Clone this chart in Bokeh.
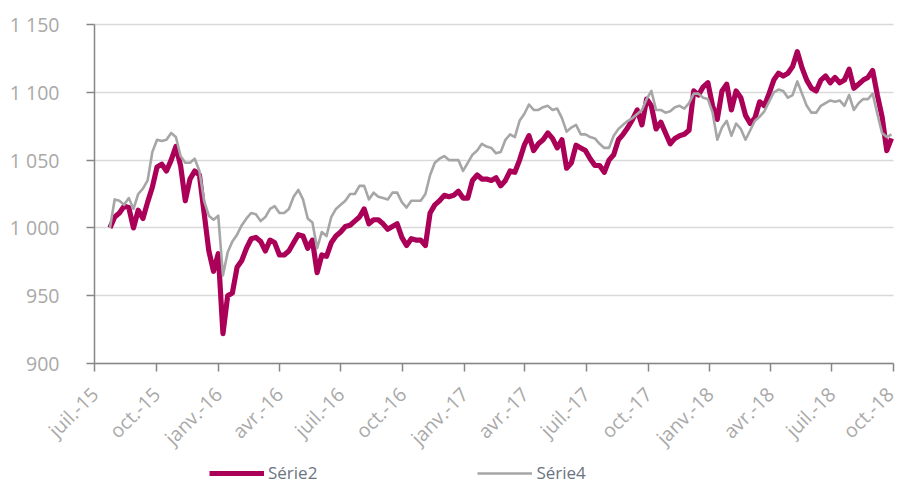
import math
import pandas as pd
from bokeh.plotting import figure
from bokeh.models import FixedTicker, Legend, LegendItem, Range1d
from bokeh.embed import file_html
from bokeh.resources import INLINE

# ---------------- data (weekly readings) ----------------
start_date = "2015-07-24"
n_points = 167

serie2 = [
    1000, 1008, 1011, 1016, 1015, 1000, 1013, 1007, 1019, 1030,
    1045, 1047, 1042, 1050, 1060, 1046, 1020, 1036, 1042, 1039,
    1011, 983, 968, 981, 922, 950, 952, 971, 976, 985,
    992, 993, 990, 983, 991, 989, 980, 980, 983, 989,
    995, 994, 985, 991, 967, 980, 979, 989, 994, 997,
    1001, 1002, 1005, 1008, 1014, 1003, 1006, 1006, 1003, 999,
    1001, 1003, 993, 987, 992, 991, 991, 987, 1011, 1017,
    1020, 1024, 1023, 1024, 1027, 1022, 1022, 1035, 1039, 1036,
    1036, 1035, 1037, 1031, 1035, 1042, 1041, 1050, 1061, 1068,
    1057, 1062, 1065, 1070, 1066, 1059, 1065, 1044, 1048, 1061,
    1059, 1057, 1051, 1046, 1046, 1041, 1050, 1054, 1065, 1069,
    1074, 1080, 1087, 1076, 1095, 1090, 1073, 1078, 1070, 1062,
    1066, 1068, 1069, 1072, 1101, 1098, 1104, 1107, 1090, 1080,
    1101, 1106, 1087, 1101, 1096, 1083, 1077, 1081, 1093, 1090,
    1099, 1109, 1114, 1112, 1114, 1119, 1130, 1118, 1109, 1103,
    1101, 1109, 1112, 1107, 1111, 1107, 1109, 1117, 1103, 1106,
    1109, 1111, 1116, 1098, 1082, 1057, 1066,
]

serie4 = [
    1000, 1021, 1020, 1017, 1022, 1014, 1025, 1029, 1035, 1056,
    1065, 1064, 1065, 1070, 1067, 1053, 1048, 1048, 1051, 1042,
    1020, 1009, 1006, 1009, 965, 982, 990, 995, 1002, 1007,
    1011, 1010, 1005, 1008, 1014, 1016, 1011, 1011, 1014, 1023,
    1028, 1021, 1007, 1004, 985, 997, 994, 1008, 1014, 1017,
    1020, 1025, 1025, 1031, 1031, 1021, 1026, 1023, 1022, 1021,
    1026, 1026, 1019, 1015, 1020, 1020, 1020, 1025, 1039, 1048,
    1051, 1053, 1050, 1050, 1050, 1042, 1048, 1054, 1057, 1062,
    1060, 1059, 1055, 1056, 1065, 1069, 1067, 1079, 1084, 1091,
    1087, 1087, 1089, 1090, 1087, 1088, 1081, 1071, 1074, 1076,
    1069, 1069, 1067, 1066, 1062, 1059, 1059, 1068, 1073, 1076,
    1079, 1081, 1084, 1087, 1095, 1101, 1087, 1087, 1085, 1086,
    1089, 1090, 1088, 1092, 1099, 1099, 1096, 1095, 1085, 1065,
    1074, 1079, 1068, 1077, 1073, 1065, 1072, 1079, 1082, 1086,
    1093, 1100, 1102, 1101, 1096, 1098, 1108, 1099, 1090, 1085,
    1085, 1090, 1092, 1094, 1093, 1094, 1090, 1098, 1087, 1092,
    1095, 1095, 1099, 1084, 1070, 1067, 1069,
]

tick_dates = [
    "2015-07-01", "2015-10-01", "2016-01-01", "2016-04-01", "2016-07-01",
    "2016-10-01", "2017-01-01", "2017-04-01", "2017-07-01", "2017-10-01",
    "2018-01-01", "2018-04-01", "2018-07-01", "2018-10-01",
]
tick_labels = [
    "juil.-15", "oct.-15", "janv.-16", "avr.-16", "juil.-16", "oct.-16",
    "janv.-17", "avr.-17", "juil.-17", "oct.-17", "janv.-18", "avr.-18",
    "juil.-18", "oct.-18",
]
y_ticks = [900, 950, 1000, 1050, 1100, 1150]
y_tick_labels = ["900", "950", "1 000", "1 050", "1 100", "1 150"]

series_names = ["Série2", "Série4"]

# ---------------- build ----------------
def to_ms(d):
    return float(pd.Timestamp(d).value // 10**6)

dates = pd.date_range(start_date, periods=n_points, freq="7D")
x = [to_ms(d) for d in dates]
x_ticks = [to_ms(d) for d in tick_dates]
x0, x1 = x_ticks[0], x_ticks[-1]
y0, y1 = y_ticks[0], y_ticks[-1]

FONT = "Open Sans"
MAGENTA = "#AB0057"
GRAY = "#A6A6A6"
AXIS = "#868686"
LABEL = "#A9A9A9"

# canvas layout (pixels): the frame covers the whole canvas, axes are pinned
W, H = 899, 485
AX_LEFT, AX_RIGHT = 94, 893     # horizontal extent of the value area
AX_TOP, AX_BOTTOM = 24, 363     # vertical extent of the value area

mpp = (x1 - x0) / (AX_RIGHT - AX_LEFT)
upp = (y1 - y0) / (AX_BOTTOM - AX_TOP)

p = figure(
    width=W, height=H,
    output_backend="svg", toolbar_location=None,
    x_range=Range1d(x0 - AX_LEFT * mpp, x1 + (W - AX_RIGHT) * mpp),
    y_range=Range1d(y0 - (H - AX_BOTTOM) * upp, y1 + AX_TOP * upp),
    min_border_left=0, min_border_right=0,
    min_border_top=0, min_border_bottom=0,
)
p.outline_line_color = None
p.background_fill_color = "white"
p.border_fill_color = "white"

p.xgrid.visible = False
p.ygrid.ticker = FixedTicker(ticks=y_ticks)
p.ygrid.grid_line_color = "#D9D9D9"
p.ygrid.grid_line_width = 1.3
p.ygrid.bounds = (y0, y1)
try:
    p.ygrid.cross_bounds = (x0, x1)
except Exception:
    p.ygrid.visible = False
    p.segment(x0=[x0] * len(y_ticks), x1=[x1] * len(y_ticks), y0=y_ticks, y1=y_ticks,
              line_color="#D9D9D9", line_width=1.3, level="underlay")

xa = p.xaxis[0]
xa.fixed_location = y0
xa.bounds = (x0, x1)
xa.ticker = FixedTicker(ticks=x_ticks)
xa.major_label_overrides = {t: l for t, l in zip(x_ticks, tick_labels)}
xa.major_label_orientation = math.pi / 4
xa.axis_line_color = AXIS
xa.axis_line_width = 1.5
xa.major_tick_line_color = AXIS
xa.major_tick_line_width = 1.5
xa.major_tick_out = 8
xa.major_tick_in = 0
xa.minor_tick_line_color = None
xa.major_label_text_font = FONT
xa.major_label_text_font_size = "19.5px"
xa.major_label_text_color = LABEL
xa.major_label_standoff = 19

ya = p.yaxis[0]
ya.fixed_location = x0
ya.bounds = (y0, y1)
ya.ticker = FixedTicker(ticks=y_ticks)
ya.major_label_overrides = {t: l for t, l in zip(y_ticks, y_tick_labels)}
ya.axis_line_color = AXIS
ya.axis_line_width = 1.5
ya.major_tick_line_color = AXIS
ya.major_tick_line_width = 1.5
ya.major_tick_out = 8
ya.major_tick_in = 0
ya.minor_tick_line_color = None
ya.major_label_text_font = FONT
ya.major_label_text_font_size = "19.5px"
ya.major_label_text_color = LABEL
ya.major_label_standoff = 27

r2 = p.line(x, serie2, line_color=MAGENTA, line_width=5.2, line_join="round")
r4 = p.line(x, serie4, line_color=GRAY, line_width=2.6, line_join="round")

legend = Legend(
    items=[LegendItem(label=series_names[0], renderers=[r2]),
           LegendItem(label=series_names[1], renderers=[r4])],
    orientation="horizontal",
    location=(209, 1),
    glyph_width=55, glyph_height=20,
    label_standoff=4, spacing=160,
    padding=0, margin=0,
    border_line_alpha=0, background_fill_alpha=0,
    label_text_font=FONT, label_text_font_size="17px",
    label_text_color="#6B7480",
)
p.add_layout(legend)

open("out.html", "w").write(file_html(p, INLINE))
